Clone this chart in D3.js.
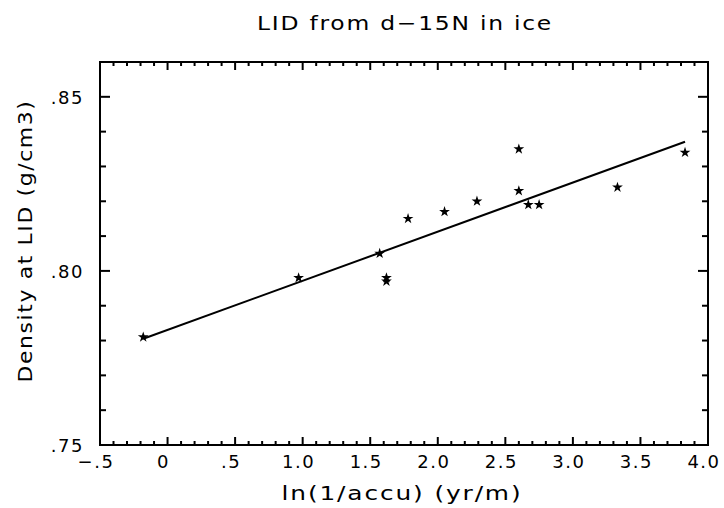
<!DOCTYPE html>
<html>
<head>
<meta charset="utf-8">
<script src="https://cdn.jsdelivr.net/npm/d3@7"></script>
<style>
  body { margin: 0; background: #fff; }
  text { font-family: "DejaVu Sans", sans-serif; fill: #000; }
</style>
</head>
<body>
<svg id="chart" width="724" height="508"></svg>
<script>
// values
const accuX = [-0.18, 0.97, 1.57, 1.62, 1.62, 1.78, 2.05, 2.29, 2.60, 2.60, 2.67, 2.75, 3.33, 3.83];
const densityY = [0.781, 0.798, 0.805, 0.798, 0.797, 0.815, 0.817, 0.820, 0.835, 0.823, 0.819, 0.819, 0.824, 0.834];
const fitX = [-0.18, 3.83];
const fitY = [0.7805, 0.8371];
const xTickLabels = ["\u2212.5", "0", ".5", "1.0", "1.5", "2.0", "2.5", "3.0", "3.5", "4.0"];
const yTickLabels = [".75", ".80", ".85"];

const svg = d3.select("#chart");
const margin = { top: 62, right: 16, bottom: 63, left: 100 };
const width = 724, height = 508;

const x = d3.scaleLinear().domain([-0.5, 4.0]).range([margin.left, width - margin.right]);
const y = d3.scaleLinear().domain([0.75, 0.86]).range([height - margin.bottom, margin.top]);

const xMajor = d3.range(-0.5, 4.01, 0.5);
const xMinor = d3.range(-0.5, 4.01, 0.1).filter(v => Math.abs(v * 2 - Math.round(v * 2)) > 1e-6);
const yMajor = [0.75, 0.80, 0.85];
const yMinor = d3.range(0.76, 0.86, 0.01).filter(v => Math.abs(v * 20 - Math.round(v * 20)) > 1e-6);

const x0 = x.range()[0], x1 = x.range()[1], y0 = y.range()[0], y1 = y.range()[1];
const ticks = svg.append("g").attr("stroke", "#000").attr("stroke-width", 2);

function xTick(v, len) {
  ticks.append("line").attr("x1", x(v)).attr("x2", x(v)).attr("y1", y0).attr("y2", y0 - len);
  ticks.append("line").attr("x1", x(v)).attr("x2", x(v)).attr("y1", y1).attr("y2", y1 + len);
}
function yTick(v, len) {
  ticks.append("line").attr("y1", y(v)).attr("y2", y(v)).attr("x1", x0).attr("x2", x0 + len);
  ticks.append("line").attr("y1", y(v)).attr("y2", y(v)).attr("x1", x1).attr("x2", x1 - len);
}
xMinor.forEach(v => xTick(v, 4));
xMajor.forEach(v => xTick(v, 8));
yMinor.forEach(v => yTick(v, 6));
yMajor.forEach(v => yTick(v, 10));

svg.append("rect")
  .attr("x", x0).attr("y", y1)
  .attr("width", x1 - x0).attr("height", y0 - y1)
  .attr("fill", "none").attr("stroke", "#000").attr("stroke-width", 2);

svg.selectAll("text.xt")
  .data(xMajor)
  .join("text")
  .attr("class", "xt")
  .attr("x", d => x(d) - 4)
  .attr("y", y0 + 23)
  .attr("text-anchor", "middle")
  .attr("font-size", 18)
  .attr("letter-spacing", 1.5)
  .text((d, i) => xTickLabels[i]);

svg.selectAll("text.yt")
  .data(yMajor)
  .join("text")
  .attr("class", "yt")
  .attr("x", x0 - 16)
  .attr("y", d => y(d) + 7)
  .attr("text-anchor", "end")
  .attr("font-size", 18)
  .attr("letter-spacing", 1.5)
  .text((d, i) => yTickLabels[i]);

// fit line
svg.append("path")
  .datum(fitX.map((d, i) => [d, fitY[i]]))
  .attr("fill", "none")
  .attr("stroke", "#000")
  .attr("stroke-width", 2)
  .attr("d", d3.line().x(d => x(d[0])).y(d => y(d[1])));

// stars
svg.selectAll("path.pt")
  .data(accuX.map((d, i) => [d, densityY[i]]))
  .join("path")
  .attr("class", "pt")
  .attr("transform", d => `translate(${x(d[0])},${y(d[1])})`)
  .attr("d", d3.symbol(d3.symbolStar, 36))
  .attr("fill", "#000");

function label(sel, len) {
  sel.attr("text-anchor", "middle")
    .attr("font-size", 20)
    .attr("letter-spacing", 1.5)
    .attr("textLength", len)
    .attr("lengthAdjust", "spacingAndGlyphs");
}

svg.append("text")
  .attr("x", 405)
  .attr("y", 30)
  .call(label, 296)
  .text("LID from d\u221215N in ice");

svg.append("text")
  .attr("x", 402)
  .attr("y", 500)
  .call(label, 241)
  .text("ln(1/accu) (yr/m)");

svg.append("text")
  .attr("transform", "translate(32,241) rotate(-90)")
  .call(label, 283)
  .text("Density at LID (g/cm3)");
</script>
</body>
</html>
